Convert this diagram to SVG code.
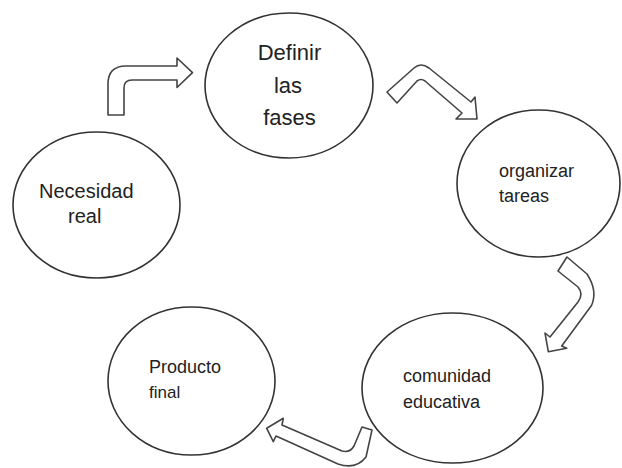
<svg xmlns="http://www.w3.org/2000/svg" width="622" height="468" viewBox="0 0 622 468">
<style>
.node ellipse{fill:#fff;stroke:#333;stroke-width:1.6}
.node text{font-family:"Liberation Sans",Arial,sans-serif;fill:#222}
.arrow{fill:#fff;stroke:#444;stroke-width:1.6;stroke-linejoin:round}
</style>
<rect width="622" height="468" fill="#fff"/>
<g id="connectors">
<path class="arrow" d="M108,115 L108,84 Q108,66 126,66 L177,66 L177,58 L192.5,72.7 L177,87.5 L177,80 L132,80 Q124,80 124,88 L124,115 Z"/>
<path class="arrow" d="M387,92 L414,68 Q421,62 429,68 L471,102 L475,97 L477,119 L456,119 L462,113 L425,81 Q421,78 417,81 L397,103 Z"/>
<path class="arrow" d="M558,271 L578,287 Q584,294 578,302 L550,337 L545,333 L548.3,351.7 L566.7,348.3 L561.7,346 L591.5,305.5 Q598,291 587,274 L567,257 Z"/>
<path class="arrow" d="M362,427 L354,446 Q350,453 342,451 L282,425 L283.3,418.3 L266.7,428.3 L273.3,441.7 L276,436 L338,464 Q356,470 366,457 L372,430 Z"/>
</g>
<g id="n1" class="node">
<ellipse cx="96.5" cy="205" rx="83.5" ry="73"/>
<text font-size="20"><tspan x="39" y="198">Necesidad</tspan><tspan x="68" y="223">real</tspan></text>
</g>
<g id="n2" class="node">
<ellipse cx="289" cy="85.5" rx="84" ry="72.5"/>
<text font-size="22" text-anchor="middle"><tspan x="289.5" y="60">Definir</tspan><tspan x="288" y="93">las</tspan><tspan x="289.5" y="125">fases</tspan></text>
</g>
<g id="n3" class="node">
<ellipse cx="538.5" cy="183.5" rx="81.5" ry="73.5"/>
<text font-size="18"><tspan x="499" y="177">organizar</tspan><tspan x="499" y="202">tareas</tspan></text>
</g>
<g id="n4" class="node">
<ellipse cx="452.5" cy="388" rx="90.5" ry="75"/>
<text font-size="18"><tspan x="403" y="382">comunidad</tspan><tspan x="403" y="408">educativa</tspan></text>
</g>
<g id="n5" class="node">
<ellipse cx="191.5" cy="381" rx="83.5" ry="74"/>
<text font-size="18"><tspan x="149" y="373">Producto</tspan><tspan x="149" y="398" font-size="17">final</tspan></text>
</g>
</svg>
